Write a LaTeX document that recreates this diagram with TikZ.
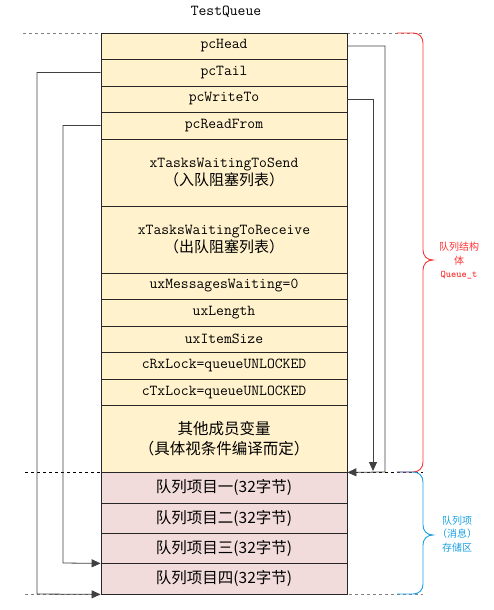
\documentclass[tikz,border=0pt]{standalone}
\usepackage{fontspec}
\newfontfamily\cjk{Noto Sans CJK SC}
\usetikzlibrary{arrows.meta}
\definecolor{fieldfill}{HTML}{FFF2CC}
\definecolor{itemfill}{HTML}{F2DCDB}
\definecolor{bracered}{HTML}{FF3333}
\definecolor{braceblue}{HTML}{1BA1E2}
\begin{document}
\begin{tikzpicture}[x=1pt,y=-1pt,
  row/.style={draw=black!85,line width=0.8pt,minimum width=246pt,inner sep=0pt,align=center,text=black},
  fld/.style={row,fill=fieldfill,font=\fontsize{15.2}{18}\ttfamily},
  itm/.style={row,fill=itemfill,font=\fontsize{15.5}{18}\cjk},
  conn/.style={draw=black!75,line width=0.8pt,-{Triangle[length=9pt,width=8pt]}},
  lbl/.style={align=center,font=\fontsize{10}{13.5}\cjk,inner sep=0pt}]
\useasboundingbox (0,0) rectangle (493,610);
% guide lines
\draw[gray,dashed,line width=0.8pt] (23,33) -- (423,33);
\draw[black,dashed,line width=0.8pt] (25,472) -- (423,472);
\draw[gray,dashed,line width=0.8pt] (25,594) -- (423,594);
% title
\node[font=\fontsize{15.2}{16}\ttfamily] (title) at (226,12) {TestQueue};
% rows
\node[fld,minimum height=26pt] (head) at (224,46) {pcHead};
\node[fld,minimum height=27pt] (tail) at (224,72.5) {pcTail};
\node[fld,minimum height=26pt] (write) at (224,99) {pcWriteTo};
\node[fld,minimum height=27pt] (read) at (224,125.5) {pcReadFrom};
\node[fld,minimum height=67pt] (send) at (224,172.5) {xTasksWaitingToSend\\{\cjk\fontsize{15}{18}\selectfont （入队阻塞列表）}};
\node[fld,minimum height=67pt] (recv) at (224,239.5) {xTasksWaitingToReceive\\{\cjk\fontsize{15}{18}\selectfont （出队阻塞列表）}};
\node[fld,minimum height=26pt] (msgs) at (224,286) {uxMessagesWaiting=0};
\node[fld,minimum height=27pt] (len) at (224,312.5) {uxLength};
\node[fld,minimum height=26pt] (isz) at (224,339) {uxItemSize};
\node[fld,minimum height=27pt] (rx) at (224,365.5) {cRxLock=queueUNLOCKED};
\node[fld,minimum height=26pt] (tx) at (224,392) {cTxLock=queueUNLOCKED};
\node[fld,minimum height=67pt,font=\fontsize{15.5}{20}\cjk] (other) at (224,438.5) {其他成员变量\\（具体视条件编译而定）};
\node[itm,minimum height=31pt] (i1) at (224,487.5) {队列项目一(32字节)};
\node[itm,minimum height=30pt] (i2) at (224,518) {队列项目二(32字节)};
\node[itm,minimum height=30pt] (i3) at (224,548) {队列项目三(32字节)};
\node[itm,minimum height=31pt] (i4) at (224,578.5) {队列项目四(32字节)};
% connectors
\coordinate (hc) at (385,472);
\coordinate (wc) at (373,471);
\coordinate (tc) at (37,594);
\coordinate (rc) at (63,563);
\draw[conn] (head.east) -| (hc) -- (other.south east);
\draw[conn] (write.east) -| (wc);
\draw[conn] (tail.west) -| (tc) -- (i4.south west);
\draw[conn] (read.west) -| (rc) -- (i3.south west);
% braces
\draw[bracered,line width=0.9pt] (397,33) -- (413,33) .. controls (419,33) and (423,37) .. (423,43) -- (423,250) .. controls (423,256) and (427,260) .. (433,260) .. controls (427,260) and (423,264) .. (423,270) -- (423,462) .. controls (423,468) and (419,472) .. (413,472) -- (397,472);
\draw[braceblue,line width=0.9pt] (397,472) -- (413,472) .. controls (419,472) and (423,476) .. (423,482) -- (423,525) .. controls (423,531) and (427,535) .. (433,535) .. controls (427,535) and (423,539) .. (423,545) -- (423,584) .. controls (423,590) and (419,594) .. (413,594) -- (397,594);
\node[lbl,text=bracered] (rl) at (459,261) {队列结构\\体\\{\ttfamily\bfseries\fontsize{10}{13.5}\selectfont Queue\_t}};
\node[lbl,text=braceblue] (bl) at (457,534) {队列项\\（消息）\\存储区};
\end{tikzpicture}
\end{document}
